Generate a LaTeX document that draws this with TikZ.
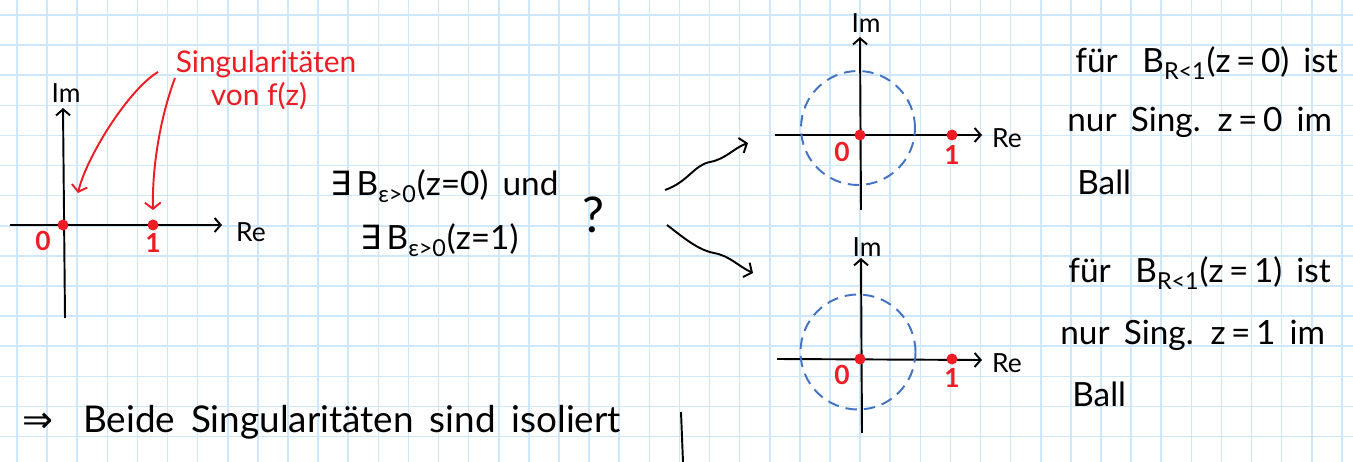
\documentclass[tikz,border=0pt]{standalone}
\usepackage{fontspec}
\setmainfont{Lato}
\newfontfamily\symb{DejaVu Sans}
\usetikzlibrary{arrows.meta}

\definecolor{gitterblau}{HTML}{CFE7FA}
\definecolor{singrot}{HTML}{EE1C24}
\definecolor{ballblau}{HTML}{4272C4}

\newcommand\hand{\fontsize{19}{23}\selectfont\spaceskip=8pt plus 2pt\relax}
\newcommand\handgross{\fontsize{21}{25}\selectfont\spaceskip=9pt plus 2pt\relax}

\tikzset{
  gitter/.style={gitterblau, line width=0.9pt},
  achse/.style={-{Straight Barb[length=3.5pt,width=8pt]}, line width=1.1pt},
  wellpfeil/.style={-{Straight Barb[length=3.5pt,width=9pt]}, line width=1.1pt},
  rotpfeil/.style={-{Straight Barb[length=3.5pt,width=9pt]}, singrot, line width=1.1pt},
  kugel/.style={ballblau, line width=1.1pt, dash pattern=on 6.5pt off 4pt},
  rot/.style={text=singrot, font=\fontsize{15}{18}\selectfont\bfseries, inner sep=1pt},
  achsname/.style={font=\fontsize{15}{18}\selectfont, inner sep=1pt},
  notiz/.style={font=\hand, anchor=base west, inner sep=0pt},
}

\begin{document}
\begin{tikzpicture}[x=0.02cm, y=-0.02cm]
    % rahmen
    \useasboundingbox (0,0) rectangle (1353,462);
    \fill[white] (0,0) rectangle (1353,462);

    % gitter
    \foreach \i in {0,...,44} \draw[gitter] ({17+30.11*\i},0) -- ({17+30.11*\i},462);
    \foreach \j in {0,...,14} \draw[gitter] (0,{15+30.11*\j}) -- (1353,{15+30.11*\j});

    % punkte links
    \coordinate (O) at (63,225);
    \coordinate (E) at (153,225);
    \coordinate (xa) at (10,225);
    \coordinate (xe) at (222,225);
    \coordinate (ya) at (65,318);
    \coordinate (ye) at (63,108);

    % achsen links
    \draw[achse] (xa) -- (xe);
    \draw[achse] (ya) -- (ye);
    \node[achsname] (re) at (251,232) {Re};
    \node[achsname] (im) at (66,93) {Im};

    % singularitaeten
    \fill[singrot] (O) circle (0.11cm);
    \fill[singrot] (E) circle (0.11cm);
    \node[rot] (null) at (43,241) {0};
    \node[rot] (eins) at (153,243) {1};

    % beschriftung rot
    \node[text=singrot, font=\fontsize{17}{20}\selectfont] (singtxt) at (266,64) {Singularitäten};
    \node[text=singrot, font=\fontsize{17}{20}\selectfont] (vontxt) at (259,96) {von f(z)};
    \coordinate (pA) at (158,72);
    \coordinate (pAe) at (78,193);
    \coordinate (pB) at (175,78);
    \coordinate (pBe) at (153,210);
    \draw[rotpfeil] (pA) .. controls (128,90) and (86,158) .. (pAe);
    \draw[rotpfeil] (pB) .. controls (160,118) and (152,168) .. (pBe);

    % frage
    \node[notiz] (bnull) at (330,196) {{\symb ∃}\hspace{3pt}B\textsubscript{ε>0}(z=0) und};
    \node[notiz] (beins) at (360,250) {{\symb ∃}\hspace{3pt}B\textsubscript{ε>0}(z=1)};
    \node[font=\fontsize{28}{32}\selectfont, inner sep=0pt] (frage) at (594,215) {?};

    % pfeile
    \coordinate (wo) at (665,190);
    \coordinate (woe) at (748,143);
    \coordinate (wu) at (667,225);
    \coordinate (wue) at (753,273);
    \draw[wellpfeil] (wo) .. controls (688,182) and (694,165) .. (710,162) .. controls (726,159) and (734,148) .. (woe);
    \draw[wellpfeil] (wu) .. controls (684,238) and (698,250) .. (714,253) .. controls (730,256) and (738,266) .. (wue);

    % kugel um z=0
    \coordinate (Oo) at (860,135);
    \coordinate (Eo) at (952,135);
    \draw[achse] (775,135) coordinate (xao) -- (982,135) coordinate (xeo);
    \draw[achse] (861,210) coordinate (yao) -- (860,37) coordinate (yeo);
    \draw[kugel] (858,128) circle (1.14cm);
    \fill[singrot] (Oo) circle (0.11cm);
    \fill[singrot] (Eo) circle (0.11cm);
    \node[achsname] (reo) at (1007,138) {Re};
    \node[achsname] (imo) at (866,23) {Im};
    \node[rot] (nullo) at (842,152) {0};
    \node[rot] (einso) at (952,155) {1};

    % kugel um z=1
    \coordinate (Ou) at (860,359);
    \coordinate (Eu) at (952,359);
    \draw[achse] (777,359) coordinate (xau) -- (982,360) coordinate (xeu);
    \draw[achse] (862,433) coordinate (yau) -- (861,258) coordinate (yeu);
    \draw[kugel] (858,352) circle (1.15cm);
    \fill[singrot] (Ou) circle (0.11cm);
    \fill[singrot] (Eu) circle (0.11cm);
    \node[achsname] (reu) at (1007,363) {Re};
    \node[achsname] (imu) at (867,247) {Im};
    \node[rot] (nullu) at (842,375) {0};
    \node[rot] (einsu) at (952,378) {1};

    % text rechts
    \node[notiz] (fo1) at (1075,73) {für\hspace{6pt} B\textsubscript{R<1}(z\,=\,0) ist};
    \node[notiz] (fo2) at (1067,132) {nur Sing. z\,=\,0 im};
    \node[notiz] (fo3) at (1077,195) {Ball};
    \node[notiz] (fu1) at (1068,283) {für\hspace{6pt} B\textsubscript{R<1}(z\,=\,1) ist};
    \node[notiz] (fu2) at (1060,345) {nur Sing. z\,=\,1 im};
    \node[notiz] (fu3) at (1072,407) {Ball};

    % fazit
    \node[notiz, font=\handgross] (fazit) at (22,433) {{\symb ⇒}\hspace{8pt} Beide Singularitäten sind isoliert};
    \draw[line width=1.1pt] (681,412) -- (683,462);
\end{tikzpicture}
\end{document}
